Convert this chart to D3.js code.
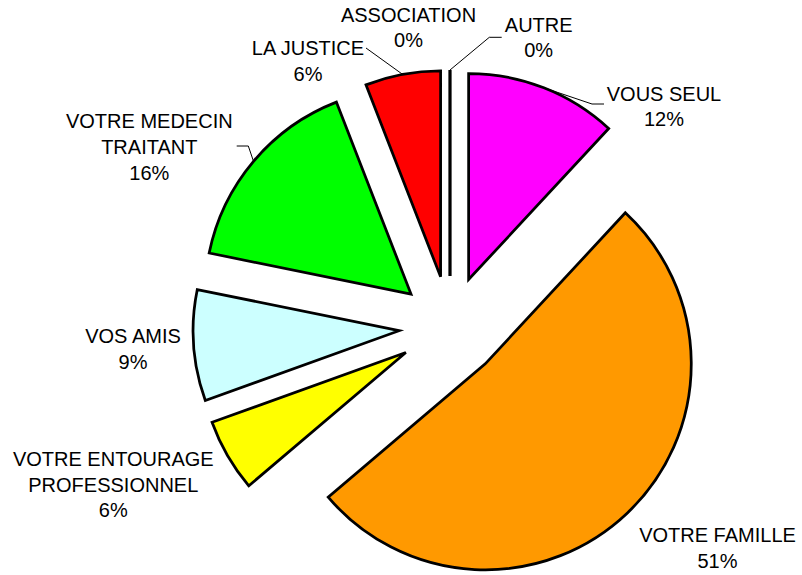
<!DOCTYPE html>
<html>
<head>
<meta charset="utf-8">
<script src="https://cdn.jsdelivr.net/npm/d3@7"></script>
<style>
  html, body { margin: 0; padding: 0; background: #fff; }
  svg { display: block; }
  text { font-family: "Liberation Sans", Arial, sans-serif; font-size: 20px; fill: #000; }
</style>
</head>
<body>
<svg id="chart" width="802" height="575"></svg>
<script>
// ---- data ----
const categories = ["VOUS SEUL", "VOTRE FAMILLE", "VOTRE ENTOURAGE PROFESSIONNEL", "VOS AMIS",
                    "VOTRE MEDECIN TRAITANT", "LA JUSTICE", "ASSOCIATION", "AUTRE"];
const values = [11.9, 51.9, 5.7, 8.7, 15.9, 5.9, 0, 0];
const pctLabels = ["12%", "51%", "6%", "9%", "16%", "6%", "0%", "0%"];
const labelLines = [
  ["VOUS SEUL"],
  ["VOTRE FAMILLE"],
  ["VOTRE ENTOURAGE", "PROFESSIONNEL"],
  ["VOS AMIS"],
  ["VOTRE MEDECIN", "TRAITANT"],
  ["LA JUSTICE"],
  ["ASSOCIATION"],
  ["AUTRE"]
];
const colors = ["#FF00FF", "#FF9900", "#FFFF00", "#CCFFFF", "#00FF00", "#FF0000", "#FFFFFF", "#FFFFFF"];

// ---- layout (not data) ----
const W = 802, H = 575;
const cx = 450, cy = 327, R = 206, explode = 51;
const lineH = 25.6;
// label anchor: centre x, first baseline y
const labelPos = [
  [664, 100.7], [717.5, 542.3], [113.3, 466], [133, 343],
  [149.3, 128.3], [308, 55], [408.5, 21.7], [538.7, 31.7]
];
// leader lines: label-side points, then ends on the slice arc at its mid angle (null = none)
const leaders = [
  [[604, 104], [592, 104]],
  null,
  null,
  null,
  [[236.7, 146], [248.3, 146]],
  [[366, 48]],
  null,
  [[501.7, 37.3], [489.3, 37.3]]
];

const svg = d3.select("#chart");
const g = svg.append("g").attr("transform", `translate(${cx},${cy})`);

const pie = d3.pie().sort(null).value(d => d).startAngle(0).endAngle(2 * Math.PI);
const arcs = pie(values);
const arcGen = d3.arc().innerRadius(0).outerRadius(R);

function offset(a) {
  const mid = (a.startAngle + a.endAngle) / 2;
  return [explode * Math.sin(mid), -explode * Math.cos(mid)];
}

g.selectAll("path.slice")
  .data(arcs)
  .join("path")
  .attr("class", "slice")
  .attr("transform", d => { const o = offset(d); return `translate(${o[0]},${o[1]})`; })
  .attr("d", arcGen)
  .attr("fill", (d, i) => colors[i])
  .attr("stroke", "#000")
  .attr("stroke-width", 2.75)
  .attr("stroke-linejoin", "miter");

// leader lines
arcs.forEach((a, i) => {
  const pts = leaders[i];
  if (!pts) return;
  const mid = (a.startAngle + a.endAngle) / 2;
  const o = offset(a);
  const end = [cx + o[0] + R * Math.sin(mid), cy + o[1] - R * Math.cos(mid)];
  const all = pts.concat([end]);
  svg.append("path")
    .attr("d", d3.line()(all))
    .attr("fill", "none")
    .attr("stroke", "#000")
    .attr("stroke-width", 1);
});

// labels
arcs.forEach((a, i) => {
  const [x, y] = labelPos[i];
  const lines = labelLines[i].concat([pctLabels[i]]);
  const t = svg.append("text").attr("text-anchor", "middle");
  lines.forEach((s, k) => {
    t.append("tspan").attr("x", x).attr("y", y + k * lineH).text(s);
  });
});
</script>
</body>
</html>
